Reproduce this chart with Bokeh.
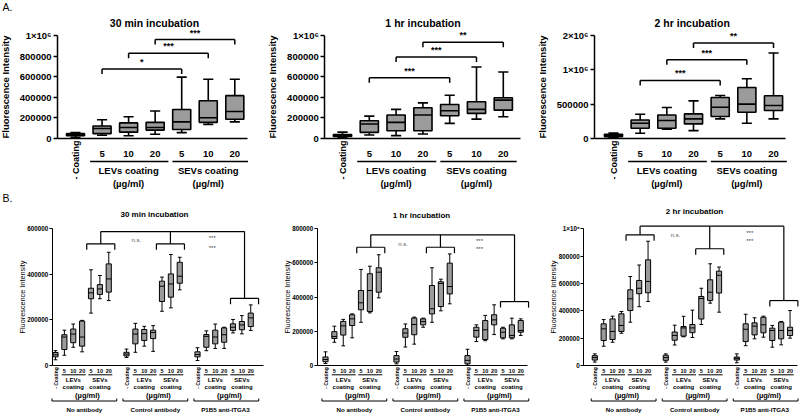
import math
from bokeh.plotting import figure
from bokeh.layouts import column, row
from bokeh.models import FixedTicker, ColumnDataSource, Range1d
from bokeh.core.properties import value
from bokeh.embed import file_html
from bokeh.resources import INLINE

FONT = "Liberation Sans"
FILL = "#9b9b9b"

# ---------------- Panel A data (min, q1, median, q3, max) ----------------
a_ctrl_label = "- Coating"
a_dose_labels = ["5", "10", "20", "5", "10", "20"]
a_group_labels = ["LEVs coating", "SEVs coating"]
unit_label = "(µg/ml)"
y_title = "Fluorescence Intensity"

a30_title = "30 min incubation"
a30_min = [10000, 30000, 25000, 40000, 55000, 135000, 160000]
a30_q1 = [25000, 45000, 60000, 80000, 85000, 155000, 185000]
a30_med = [35000, 95000, 105000, 105000, 160000, 200000, 260000]
a30_q3 = [45000, 120000, 150000, 155000, 280000, 365000, 415000]
a30_max = [55000, 180000, 210000, 265000, 595000, 575000, 575000]
a30_ticks = [0, 200000, 400000, 600000, 800000, 1000000]
a30_tick_labels = ["0", "200000", "400000", "600000", "800000", "1×10⁶"]
a30_sig_y = [674000, 827000, 961000]
a30_sig_text = ["*", "***", "***"]

a60_title = "1 hr incubation"
a60_min = [8000, 32000, 26000, 42000, 145000, 187000, 210000]
a60_q1 = [18000, 58000, 74000, 74000, 219000, 242000, 274000]
a60_med = [28000, 139000, 155000, 226000, 268000, 281000, 371000]
a60_q3 = [36000, 171000, 226000, 297000, 329000, 355000, 394000]
a60_max = [60000, 216000, 281000, 345000, 419000, 694000, 645000]
a60_ticks = [0, 200000, 400000, 600000, 800000, 1000000]
a60_tick_labels = ["0", "200000", "400000", "600000", "800000", "1×10⁶"]
a60_sig_y = [590000, 790000, 935000]
a60_sig_text = ["***", "***", "**"]

a120_title = "2 hr incubation"
a120_min = [15000, 73000, 132000, 112000, 283000, 220000, 283000]
a120_q1 = [25000, 146000, 146000, 210000, 317000, 380000, 405000]
a120_med = [45000, 220000, 259000, 283000, 454000, 498000, 478000]
a120_q3 = [60000, 268000, 341000, 356000, 595000, 741000, 620000]
a120_max = [75000, 351000, 449000, 546000, 624000, 868000, 1244000]
a120_ticks = [0, 500000, 1000000, 1500000]
a120_tick_labels = ["0", "500000", "1×10⁶", "2×10⁶"]
a120_sig_y = [844000, 1146000, 1390000]
a120_sig_text = ["***", "***", "**"]

a_sig_pairs = [(1, 4), (2, 5), (3, 6)]

# ---------------- Panel B data (3 conditions x 7 boxes) ----------------
b_conditions = ["No antibody", "Control antibody", "P1B5  anti-ITGA3"]
b_dose_labels = ["5", "10", "20", "5", "10", "20"]

b30_title = "30 min incubation"
b30_min = [25000, 45000, 80000, 60000, 230000, 293000, 285000,
           35000, 58000, 85000, 62000, 238000, 253000, 332000,
           22000, 65000, 75000, 75000, 143000, 139000, 154000]
b30_q1 = [38000, 70000, 100000, 85000, 293000, 312000, 322000,
          42000, 95000, 110000, 118000, 281000, 300000, 361000,
          38000, 80000, 95000, 102000, 154000, 157000, 171000]
b30_med = [47000, 125000, 138000, 125000, 319000, 336000, 380000,
           50000, 138000, 140000, 145000, 348000, 358000, 392000,
           48000, 128000, 125000, 135000, 168000, 178000, 209000]
b30_q3 = [57000, 135000, 160000, 195000, 339000, 355000, 446000,
          58000, 160000, 158000, 155000, 370000, 402000, 453000,
          60000, 136000, 155000, 165000, 183000, 193000, 230000]
b30_max = [65000, 155000, 182000, 198000, 420000, 395000, 497000,
           72000, 185000, 172000, 175000, 388000, 487000, 475000,
           78000, 152000, 182000, 168000, 202000, 219000, 266000]
b30_ticks = [0, 200000, 400000, 600000]
b30_tick_labels = ["0", "200000", "400000", "600000"]
b30_top = 588000
b30_sub = [534000, 534000, 295000]
b30_ns = (9.1, 549000)
b30_star = (17.66, [559000, 517000])

b60_title = "1 hr incubation"
b60_min = [12000, 136000, 115000, 162000, 253000, 308000, 396000,
           10000, 108000, 125000, 224000, 253000, 320000, 361000,
           2000, 140000, 145000, 181000, 156000, 156000, 176000]
b60_q1 = [22000, 158000, 178000, 234000, 326000, 316000, 429000,
          20000, 165000, 180000, 238000, 302000, 345000, 419000,
          10000, 166000, 152000, 238000, 162000, 162000, 195000]
b60_med = [35000, 170000, 232000, 273000, 367000, 439000, 546000,
           38000, 190000, 240000, 257000, 332000, 480000, 462000,
           30000, 205000, 209000, 267000, 195000, 176000, 205000]
b60_q3 = [50000, 198000, 258000, 297000, 439000, 537000, 572000,
          58000, 215000, 278000, 273000, 468000, 490000, 599000,
          58000, 224000, 263000, 297000, 218000, 238000, 263000]
b60_max = [80000, 230000, 270000, 302000, 562000, 581000, 648000,
           82000, 243000, 283000, 277000, 572000, 505000, 653000,
           95000, 238000, 293000, 355000, 224000, 277000, 273000]
b60_ticks = [0, 200000, 400000, 600000, 800000]
b60_tick_labels = ["0", "200000", "400000", "600000", "800000"]
b60_top = 765000
b60_sub = [692000, 692000, 374000]
b60_ns = (8.75, 712000)
b60_star = (17.35, [731000, 679000])

b120_title = "2 hr incubation"
b120_min = [25000, 141000, 170000, 236000, 317000, 430000, 468000,
            25000, 150000, 210000, 205000, 300000, 456000, 390000,
            20000, 145000, 195000, 207000, 134000, 151000, 200000]
b120_q1 = [40000, 183000, 190000, 249000, 402000, 525000, 532000,
           38000, 185000, 215000, 240000, 340000, 475000, 530000,
           40000, 175000, 224000, 239000, 183000, 195000, 219000]
b120_med = [58000, 268000, 249000, 293000, 488000, 565000, 615000,
            58000, 220000, 275000, 275000, 490000, 536000, 660000,
            52000, 265000, 288000, 298000, 256000, 256000, 256000]
b120_q3 = [72000, 305000, 341000, 378000, 554000, 622000, 773000,
           75000, 245000, 285000, 300000, 505000, 627000, 690000,
           62000, 305000, 312000, 353000, 273000, 317000, 280000]
b120_max = [85000, 336000, 361000, 395000, 651000, 735000, 909000,
            85000, 295000, 360000, 405000, 565000, 744000, 720000,
            85000, 375000, 349000, 361000, 293000, 322000, 402000]
b120_ticks = [0, 200000, 400000, 600000, 800000, 1000000]
b120_tick_labels = ["0", "200000", "400000", "600000", "800000", "1×10⁶"]
b120_top = 1019000
b120_sub = [956000, 854000, 475000]
b120_ns = (9.1, 956000)
b120_star = (17.46, [968000, 909000])

b_bracket_centers = [5.1, 12.95, 21.3]


# ---------------- helpers ----------------
def base_fig(width, height, axis_px, right_px, slot0_px, spacing, zero_py, top_py, top_tick, lw):
    ppu = (zero_py - top_py) / top_tick

    def yv(py):
        return (zero_py - py) / ppu

    def xs(px):
        return (px - slot0_px) / spacing

    p = figure(width=width, height=height, output_backend="svg", toolbar_location=None,
               x_range=Range1d(xs(0), xs(width)), y_range=Range1d(yv(height), yv(0)),
               x_axis_location="below", y_axis_location="left", title=None,
               min_border_left=0, min_border_right=0, min_border_top=0, min_border_bottom=0)
    p.outline_line_color = None
    p.grid.grid_line_color = None
    p.background_fill_color = "white"
    p.border_fill_color = "white"
    # x axis: just the base line at y=0, between the y axis and the plot end
    xa = p.xaxis[0]
    xa.fixed_location = 0
    xa.bounds = (xs(axis_px), xs(right_px))
    xa.ticker = FixedTicker(ticks=[])
    xa.major_label_text_font_size = "0px"
    xa.major_tick_line_color = None
    xa.minor_tick_line_color = None
    xa.axis_line_width = lw
    xa.axis_line_color = "black"
    # y axis placed at the data x of the reference axis
    p.yaxis[0].fixed_location = xs(axis_px)
    return p, yv, xs, ppu


def style_yaxis(p, ticks, labels, top, tick_size, lab_size, lab_style, lw, tick_out,
                lab_standoff, title_standoff):
    ax = p.yaxis[0]
    ax.ticker = FixedTicker(ticks=ticks)
    ax.major_label_overrides = {t: l for t, l in zip(ticks, labels)}
    ax.bounds = (0, top)
    ax.minor_tick_line_color = None
    ax.major_tick_in = 0
    ax.major_tick_out = tick_out
    ax.axis_line_width = lw
    ax.major_tick_line_width = lw
    ax.axis_line_color = "black"
    ax.major_tick_line_color = "black"
    ax.major_label_text_font = FONT
    ax.major_label_text_font_size = tick_size
    ax.major_label_text_font_style = "bold"
    ax.major_label_text_color = "black"
    ax.major_label_standoff = lab_standoff
    ax.axis_label = y_title
    ax.axis_label_text_font = FONT
    ax.axis_label_text_font_size = lab_size
    ax.axis_label_text_font_style = lab_style
    ax.axis_label_text_color = "black"
    ax.axis_label_standoff = title_standoff


def txt(p, x, y, t, size, style="bold", align="center", baseline="middle", angle=0.0, color="black"):
    p.text(x=x, y=y, text=t, text_font=value(FONT), text_font_size=value(size),
           text_font_style=style, text_align=align, text_baseline=baseline,
           angle=angle, text_color=color)


def draw_boxes(p, xpos, mn, q1, md, q3, mx, bw, cw, lw):
    src = ColumnDataSource(dict(
        x=xpos, mn=mn, q1=q1, md=md, q3=q3, mx=mx,
        bl=[x - bw / 2 for x in xpos], br=[x + bw / 2 for x in xpos],
        cl=[x - cw / 2 for x in xpos], cr=[x + cw / 2 for x in xpos]))
    kw = dict(source=src, line_color="black", line_width=lw)
    p.segment(x0="x", y0="q3", x1="x", y1="mx", **kw)
    p.segment(x0="x", y0="mn", x1="x", y1="q1", **kw)
    p.segment(x0="cl", y0="mx", x1="cr", y1="mx", **kw)
    p.segment(x0="cl", y0="mn", x1="cr", y1="mn", **kw)
    p.quad(left="bl", right="br", bottom="q1", top="q3", fill_color=FILL, **kw)
    p.segment(x0="bl", y0="md", x1="br", y1="md", **kw)


def panel_a(title, mn, q1, md, q3, mx, ticks, tick_labels, sig_y, sig_text,
            width, axis_px, right_px, slot0_px, spacing, title_px, letter=None):
    H = 190
    zero_py, top_py = 137.8, 35.0
    top_tick = ticks[-1]
    p, yv, xs, ppu = base_fig(width, H, axis_px, right_px, slot0_px, spacing, zero_py, top_py,
                              top_tick, 1.5)
    style_yaxis(p, ticks, tick_labels, top_tick, "9.5px", "9.5px", "bold", 1.5, 4, 2, 6)
    xpos = list(range(7))
    draw_boxes(p, xpos, mn, q1, md, q3, mx, 0.68, 0.38, 1.6)
    # significance brackets
    drop = 5 / ppu
    bx0, by0, bx1, by1 = [], [], [], []
    for (i, j), h in zip(a_sig_pairs, sig_y):
        bx0 += [i, i, j]; by0 += [h, h, h]
        bx1 += [j, i, j]; by1 += [h, h - drop, h - drop]
    p.segment(x0=bx0, y0=by0, x1=bx1, y1=by1, line_color="black", line_width=1.5)
    txt(p, [(i + j) / 2 for i, j in a_sig_pairs], [h + 2 / ppu for h in sig_y], sig_text,
        "9px", baseline="bottom")
    # title
    txt(p, [xs(title_px)], [yv(22)], [title], "10.5px")
    # category labels under the axis
    txt(p, xpos[1:], [yv(153)] * 6, a_dose_labels, "9.5px")
    txt(p, [0], [yv(140)], [a_ctrl_label], "9px", align="right", angle=math.pi / 2)
    p.segment(x0=[0.55, 3.65], y0=[yv(161)] * 2, x1=[3.5, 6.5], y1=[yv(161)] * 2,
              line_color="black", line_width=1.5)
    txt(p, [2, 5], [yv(169.5)] * 2, a_group_labels, "9.5px")
    txt(p, [2, 5], [yv(183)] * 2, [unit_label] * 2, "9.5px")
    if letter:
        txt(p, [xs(2)], [yv(6)], [letter], "10.5px", style="normal", align="left")
    return p


def panel_b(title, mn, q1, md, q3, mx, ticks, tick_labels, top, sub, ns, star,
            width, axis_px, right_px, slot0_px, title_px, title_py, letter=None):
    H = 227
    spacing = 8.875
    zero_py, top_py = 175.0, 38.3
    top_tick = ticks[-1]
    p, yv, xs, ppu = base_fig(width, H, axis_px, right_px, slot0_px, spacing, zero_py, top_py,
                              top_tick, 1)
    style_yaxis(p, ticks, tick_labels, top_tick, "6.3px", "7.3px", "normal", 1, 3, 1, -3)
    xpos = [g * 8 + k for g in range(3) for k in range(7)]
    draw_boxes(p, xpos, mn, q1, md, q3, mx, 0.58, 0.42, 1)
    # comparison brackets
    c = b_bracket_centers
    hw = 1.58
    drop = 6 / ppu
    x0 = [c[0], c[0], c[1], c[2]]
    y0 = [top, top, top, top]
    x1 = [c[2], c[0], c[1], c[2]]
    y1 = [top, sub[0], sub[1], sub[2]]
    for g in range(3):
        x0 += [c[g] - hw, c[g] - hw, c[g] + hw]
        y0 += [sub[g], sub[g], sub[g]]
        x1 += [c[g] + hw, c[g] - hw, c[g] + hw]
        y1 += [sub[g], sub[g] - drop, sub[g] - drop]
    p.segment(x0=x0, y0=y0, x1=x1, y1=y1, line_color="black", line_width=1.2)
    txt(p, [ns[0]], [ns[1]], ["n.s."], "6px", style="normal", color="#555555")
    txt(p, [star[0]] * 2, star[1], ["***", "***"], "6px", style="normal", color="#444444")
    # title
    txt(p, [xs(title_px)], [yv(title_py)], [title], "8px")
    # category labels under the axis
    nums_x, nums_t = [], []
    for g in range(3):
        for k in range(6):
            nums_x.append(g * 8 + k + 1)
            nums_t.append(b_dose_labels[k])
    txt(p, nums_x, [yv(180.7)] * 18, nums_t, "5.5px")
    txt(p, [0, 8, 16], [yv(176.7)] * 3, [a_ctrl_label] * 3, "5px", align="right", angle=math.pi / 2)
    ux0, ux1 = [], []
    for g in range(3):
        ux0 += [g * 8 + 0.7, g * 8 + 3.7]
        ux1 += [g * 8 + 3.4, g * 8 + 6.4]
    p.segment(x0=ux0, y0=[yv(184.3)] * 6, x1=ux1, y1=[yv(184.3)] * 6, line_color="black", line_width=1)
    gx = [g * 8 + k for g in range(3) for k in (2, 5)]
    txt(p, gx, [yv(189.3)] * 6, ["LEVs", "SEVs"] * 3, "6px")
    txt(p, gx, [yv(196.7)] * 6, ["coating"] * 6, "6px")
    txt(p, [g * 8 + 3.6 for g in range(3)], [yv(205)] * 3, [unit_label] * 3, "7.5px")
    # condition brackets
    cx0, cy0, cx1, cy1 = [], [], [], []
    up = 2.5 / ppu
    yb = yv(210.5)
    for g in range(3):
        a, b = g * 8 - 0.4, g * 8 + 6.9
        cx0 += [a, a, b]; cy0 += [yb, yb, yb]
        cx1 += [b, a, b]; cy1 += [yb, yb + up, yb + up]
    p.segment(x0=cx0, y0=cy0, x1=cx1, y1=cy1, line_color="black", line_width=1)
    txt(p, [g * 8 + 3.25 for g in range(3)], [yv(219)] * 3, b_conditions, "6.2px")
    if letter:
        txt(p, [xs(2)], [yv(7)], [letter], "10.5px", style="normal", align="left")
    return p


a1 = panel_a(a30_title, a30_min, a30_q1, a30_med, a30_q3, a30_max, a30_ticks, a30_tick_labels,
             a30_sig_y, a30_sig_text, 267, 57, 247, 75, 26.55, 154, letter="A.")
a2 = panel_a(a60_title, a60_min, a60_q1, a60_med, a60_q3, a60_max, a60_ticks, a60_tick_labels,
             a60_sig_y, a60_sig_text, 266, 57.3, 253, 75, 26.8, 155.5)
a3 = panel_a(a120_title, a120_min, a120_q1, a120_med, a120_q3, a120_max, a120_ticks, a120_tick_labels,
             a120_sig_y, a120_sig_text, 267, 61, 252, 80, 26.67, 158.7)

b1 = panel_b(b30_title, b30_min, b30_q1, b30_med, b30_q3, b30_max, b30_ticks, b30_tick_labels,
             b30_top, b30_sub, b30_ns, b30_star, 265, 51.7, 263, 55, 154, 24, letter="B.")
b2 = panel_b(b60_title, b60_min, b60_q1, b60_med, b60_q3, b60_max, b60_ticks, b60_tick_labels,
             b60_top, b60_sub, b60_ns, b60_star, 265, 51.7, 262, 60, 156, 25)
b3 = panel_b(b120_title, b120_min, b120_q1, b120_med, b120_q3, b120_max, b120_ticks, b120_tick_labels,
             b120_top, b120_sub, b120_ns, b120_star, 270, 53.3, 267, 64.3, 164, 21)

layout = column(row(a1, a2, a3), row(b1, b2, b3))

open("out.html", "w").write(file_html(layout, INLINE))
